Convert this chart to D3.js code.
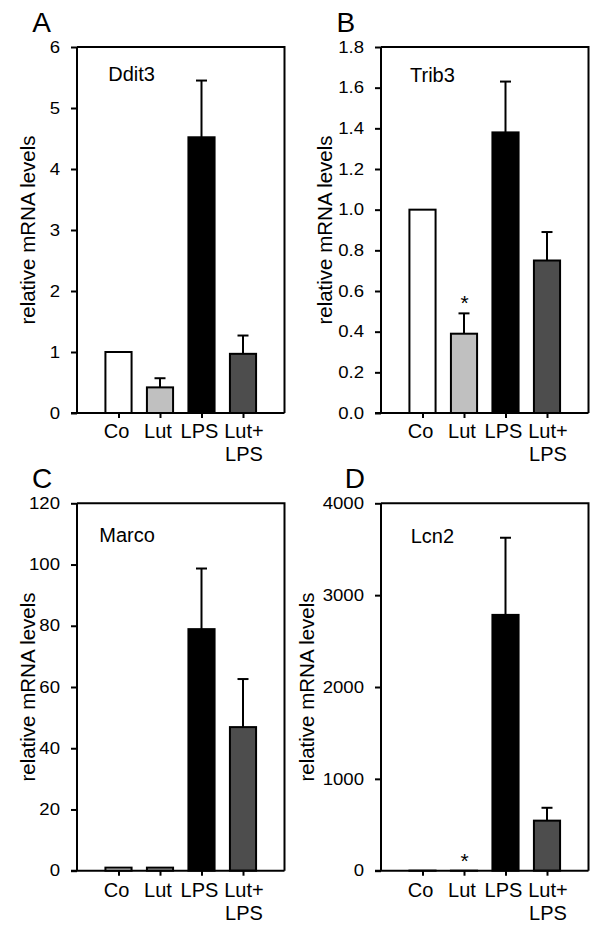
<!DOCTYPE html>
<html><head><meta charset="utf-8">
<script src="https://cdn.jsdelivr.net/npm/d3@7"></script>
<style>body{margin:0;background:#fff}svg{display:block}text{font-family:"Liberation Sans",Arial,sans-serif;fill:#000}</style>
</head><body>
<script>
// ---- data ----
const categories = ["Co", "Lut", "LPS", "Lut+\nLPS"];
const fills = ["#ffffff", "#c0c0c0", "#000000", "#4d4d4d"];
const ddit3Values = [1, 0.42, 4.52, 0.97];
const ddit3Errors = [0, 0.15, 0.93, 0.30];
const trib3Values = [1.0, 0.39, 1.38, 0.75];
const trib3Errors = [0, 0.10, 0.25, 0.14];
const marcoValues = [1, 1, 78.9, 46.9];
const marcoErrors = [0, 0, 19.8, 15.7];
const lcn2Values = [1, 0.3, 2785, 545];
const lcn2Errors = [0, 0, 840, 140];
const ddit3Ticks = [0, 1, 2, 3, 4, 5, 6];
const trib3Ticks = [0, 0.2, 0.4, 0.6, 0.8, 1.0, 1.2, 1.4, 1.6, 1.8];
const marcoTicks = [0, 20, 40, 60, 80, 100, 120];
const lcn2Ticks = [0, 1000, 2000, 3000, 4000];
const trib3Stars = ["", "*", "", ""];
const lcn2Stars = ["", "*", "", ""];
const noStars = ["", "", "", ""];
const yTitle = "relative mRNA levels";

const panels = [
  {letter:"A", gene:"Ddit3", values:ddit3Values, errors:ddit3Errors, ticks:ddit3Ticks, fmt:d3.format("d"), stars:noStars,
   left:77, top:47, bottom:413, letterX:32.3, letterY:32.3, geneX:108.3, geneY:80.7, titleX:35, labelDy:25},
  {letter:"B", gene:"Trib3", values:trib3Values, errors:trib3Errors, ticks:trib3Ticks, fmt:d3.format(".1f"), stars:trib3Stars,
   left:381, top:47, bottom:413, letterX:336.5, letterY:32.3, geneX:410, geneY:81.5, titleX:331.5, labelDy:25},
  {letter:"C", gene:"Marco", values:marcoValues, errors:marcoErrors, ticks:marcoTicks, fmt:d3.format("d"), stars:noStars,
   left:77, top:503.3, bottom:870.7, letterX:32, letterY:488.3, geneX:99.3, geneY:541.7, titleX:34.5, labelDy:26.3},
  {letter:"D", gene:"Lcn2", values:lcn2Values, errors:lcn2Errors, ticks:lcn2Ticks, fmt:d3.format("d"), stars:lcn2Stars,
   left:381, top:503.3, bottom:870.7, letterX:344.7, letterY:488.3, geneX:410.7, geneY:542.7, titleX:313.5, labelDy:26.3}
];
const plotW = 207.5;
const stretch = 1.16;

const svg = d3.select("body").append("svg").attr("width", 600).attr("height", 933);

panels.forEach(p => {
  const g = svg.append("g");
  const x = d3.scalePoint().domain(categories).range([p.left, p.left + plotW]).padding(1);
  const y = d3.scaleLinear().domain([0, d3.max(p.ticks)]).range([p.bottom, p.top]);
  const bw = x.step() * 0.63;
  const right = p.left + plotW;

  // frame top/right
  g.append("path").attr("d", `M${p.left},${p.top}H${right}V${p.bottom}`)
    .attr("fill", "none").attr("stroke", "#000").attr("stroke-width", 2);

  // bars
  categories.forEach((c, i) => {
    const v = p.values[i], e = p.errors[i];
    if (e > 0) {
      g.append("line").attr("x1", x(c)).attr("x2", x(c)).attr("y1", y(v)).attr("y2", y(v + e))
        .attr("stroke", "#000").attr("stroke-width", 2);
      g.append("line").attr("x1", x(c) - 5.5).attr("x2", x(c) + 5.5).attr("y1", y(v + e)).attr("y2", y(v + e))
        .attr("stroke", "#000").attr("stroke-width", 2);
    }
    g.append("rect").attr("x", x(c) - bw / 2).attr("width", bw)
      .attr("y", y(v)).attr("height", Math.max(0, y(0) - y(v)))
      .attr("fill", fills[i]).attr("stroke", "#000").attr("stroke-width", 2);
    if (p.stars[i]) {
      g.append("text").attr("x", x(c) + 0.5).attr("y", y(v + e) - 3).attr("text-anchor", "middle")
        .attr("font-size", 21).text(p.stars[i]);
    }
  });

  // y axis
  const ya = d3.axisLeft(y).tickValues(p.ticks).tickSize(6).tickFormat("");
  const yg = g.append("g").attr("transform", `translate(${p.left},0)`).call(ya);
  yg.select(".domain").attr("stroke-width", 2).attr("d", `M0,${p.top}V${p.bottom}`);
  yg.selectAll(".tick line").attr("stroke-width", 2);
  p.ticks.forEach(t => {
    g.append("text").attr("transform", `scale(${stretch},1)`)
      .attr("x", (p.left - 17) / stretch).attr("y", y(t) + 5.7)
      .attr("text-anchor", "end").attr("font-size", 16).text(p.fmt(t));
  });

  // x axis
  const xa = d3.axisBottom(x).tickSize(5).tickFormat("");
  const xg = g.append("g").attr("transform", `translate(0,${p.bottom})`).call(xa);
  xg.select(".domain").attr("stroke-width", 2).attr("d", `M${p.left - 6},0H${right}`);
  xg.selectAll(".tick line").attr("stroke-width", 2);
  categories.forEach(c => {
    const lines = c.split("\n");
    lines.forEach((ln, k) => {
      g.append("text").attr("x", x(c) - 2 + (lines.length > 1 ? 3 : 0))
        .attr("y", p.bottom + p.labelDy + k * 22.5)
        .attr("text-anchor", "middle").attr("font-size", 20).text(ln);
    });
  });

  // titles
  g.append("text").attr("transform", `translate(${p.titleX},${(p.top + p.bottom) / 2}) rotate(-90)`)
    .attr("text-anchor", "middle").attr("font-size", 20.5).text(yTitle);
  g.append("text").attr("x", p.geneX).attr("y", p.geneY).attr("font-size", 20).text(p.gene);
  g.append("text").attr("x", p.letterX).attr("y", p.letterY).attr("font-size", 28).text(p.letter);
});
</script>
</body></html>
